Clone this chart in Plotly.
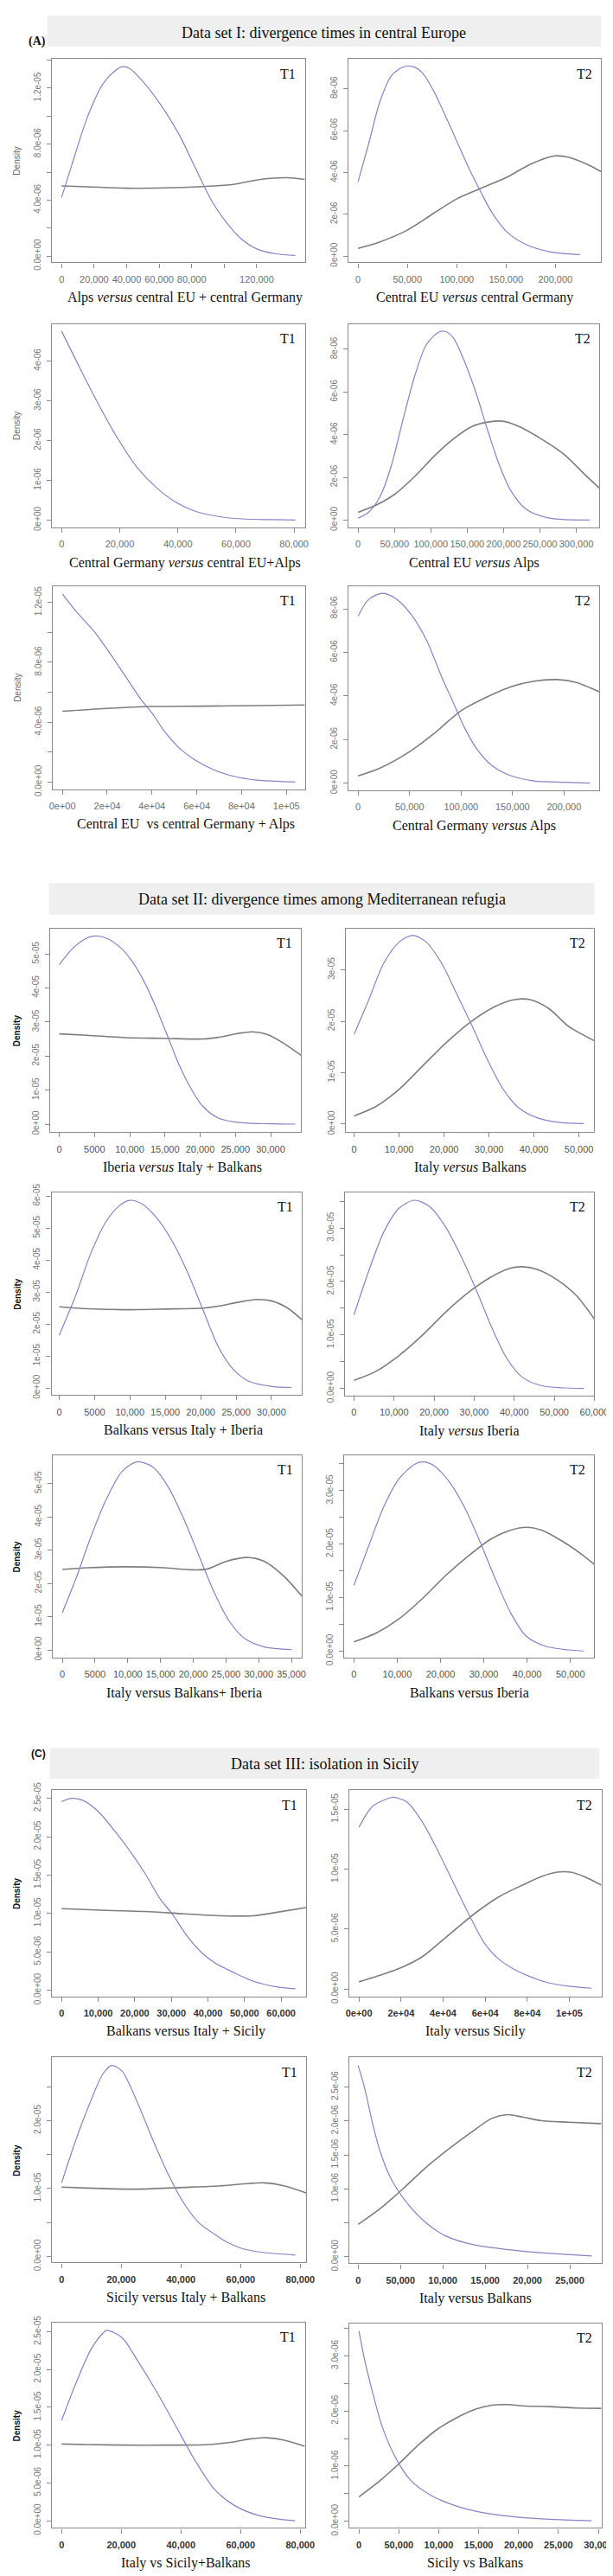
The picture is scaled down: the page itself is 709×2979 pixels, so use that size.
import plotly.graph_objects as go

W, H = 709, 2979

# ---------------- DATA ----------------
# Section A
A1_XB = [0, 6390, 15860, 25300, 32400, 37150, 41900, 51400, 63200, 72700, 82100, 91600, 101000, 110500, 120000, 131800, 143700]
A1_YB = [4.19e-6, 6.55e-6, 9.92e-6, 1.228e-5, 1.32e-5, 1.354e-5, 1.34e-5, 1.228e-5, 1.043e-5, 8.59e-6, 6.34e-6, 4.09e-6, 2.46e-6, 1.23e-6, 5.1e-7, 1.6e-7, 4e-8]
A1_XG = [0, 15860, 39600, 63200, 86900, 105800, 122400, 139000, 149600]
A1_YG = [5.01e-6, 4.95e-6, 4.85e-6, 4.87e-6, 4.97e-6, 5.12e-6, 5.48e-6, 5.6e-6, 5.48e-6]

A2_XB = [0, 10520, 22200, 33900, 45600, 55300, 65100, 76800, 88500, 100200, 111800, 123500, 135200, 150800, 170300, 193700, 224900]
A2_YB = [3.56e-6, 5.34e-6, 7.4e-6, 8.63e-6, 9.04e-6, 9.07e-6, 8.77e-6, 7.88e-6, 6.71e-6, 5.48e-6, 4.25e-6, 3.15e-6, 2.12e-6, 1.16e-6, 5.5e-7, 2.1e-7, 7e-8]
A2_XG = [0, 22200, 49500, 76800, 100200, 123500, 150800, 174200, 199500, 213100, 232600, 246300]
A2_YG = [3.7e-7, 6.8e-7, 1.23e-6, 2.05e-6, 2.74e-6, 3.22e-6, 3.77e-6, 4.38e-6, 4.79e-6, 4.73e-6, 4.38e-6, 4.04e-6]

A3_XB = [0, 6225, 12850, 19470, 26090, 32700, 39300, 45960, 53900, 61850, 72450, 80400]
A3_YB = [4.75e-6, 3.83e-6, 2.89e-6, 2.03e-6, 1.31e-6, 8.1e-7, 4.5e-7, 2.2e-7, 9e-8, 3e-8, 1e-8, 0]

A4_XB = [0, 14300, 30200, 46000, 61900, 77800, 93700, 109500, 119000, 130700, 146600, 162400, 178300, 194200, 210100, 231200, 263000, 318500]
A4_YB = [9e-8, 3.6e-7, 1.1e-6, 2.58e-6, 4.72e-6, 6.74e-6, 8.21e-6, 8.78e-6, 8.85e-6, 8.55e-6, 7.41e-6, 5.93e-6, 4.19e-6, 2.58e-6, 1.37e-6, 5e-7, 9e-8, 0]
A4_XG = [0, 24900, 51300, 77800, 104200, 130700, 157100, 178300, 199500, 220600, 252400, 284100, 310600, 331700]
A4_YG = [3.6e-7, 7e-7, 1.23e-6, 2.04e-6, 2.98e-6, 3.79e-6, 4.39e-6, 4.59e-6, 4.63e-6, 4.39e-6, 3.79e-6, 3.05e-6, 2.17e-6, 1.5e-6]

A5_XB = [0, 6010, 14600, 21480, 28350, 35220, 40380, 45530, 52400, 59280, 67870, 76460, 86770, 97080, 103950]
A5_YB = [1.257e-5, 1.143e-5, 9.99e-6, 8.55e-6, 7.02e-6, 5.49e-6, 4.54e-6, 3.39e-6, 2.24e-6, 1.47e-6, 8e-7, 3.8e-7, 1.3e-7, 4e-8, 0]
A5_XG = [0, 19760, 40380, 62710, 86770, 108250]
A5_YG = [4.73e-6, 4.92e-6, 5.05e-6, 5.07e-6, 5.11e-6, 5.15e-6]

A6_XB = [0, 10090, 23170, 36250, 51200, 66150, 81100, 92300, 103500, 114700, 129600, 148300, 170800, 200600, 225000]
A6_YB = [7.66e-6, 8.42e-6, 8.71e-6, 8.48e-6, 7.76e-6, 6.59e-6, 4.88e-6, 3.71e-6, 2.53e-6, 1.61e-6, 8.2e-7, 3.4e-7, 1e-7, 4e-8, 0]
A6_XG = [0, 21300, 51200, 73600, 99800, 126000, 148300, 170800, 193200, 211900, 234300]
A6_YG = [3.3e-7, 6.9e-7, 1.48e-6, 2.27e-6, 3.31e-6, 3.97e-6, 4.42e-6, 4.68e-6, 4.75e-6, 4.62e-6, 4.19e-6]

# Section B
B1_XB = [0, 1803, 3443, 4809, 6721, 8907, 10546, 12186, 13825, 15464, 17100, 18740, 20380, 22570, 25850, 30220, 33500]
B1_YB = [4.68e-5, 5.14e-5, 5.41e-5, 5.52e-5, 5.46e-5, 5.14e-5, 4.72e-5, 4.13e-5, 3.38e-5, 2.54e-5, 1.70e-5, 1.03e-5, 5.2e-6, 1.8e-6, 4e-7, 1e-7, 0]
B1_XG = [0, 3989, 9454, 14918, 20380, 22570, 25300, 27490, 29670, 31860, 34320]
B1_YG = [2.65e-5, 2.61e-5, 2.54e-5, 2.52e-5, 2.50e-5, 2.55e-5, 2.66e-5, 2.71e-5, 2.62e-5, 2.37e-5, 2.02e-5]

B2_XB = [0, 3168, 6590, 10020, 13010, 16010, 19430, 22860, 26280, 29710, 33130, 36560, 40840, 45980, 51110]
B2_YB = [1.747e-5, 2.40e-5, 3.13e-5, 3.54e-5, 3.67e-5, 3.54e-5, 3.13e-5, 2.52e-5, 1.90e-5, 1.24e-5, 6.8e-6, 3.2e-6, 1.2e-6, 3e-7, 1e-7]
B2_XG = [0, 4880, 10020, 15150, 20290, 26280, 31420, 35700, 39130, 43410, 47690, 53420]
B2_YG = [1.61e-6, 3.45e-6, 6.79e-6, 1.124e-5, 1.569e-5, 2.01e-5, 2.29e-5, 2.42e-5, 2.42e-5, 2.24e-5, 1.90e-5, 1.62e-5]

B3_XB = [0, 2342, 4520, 6700, 8606, 9967, 11600, 13780, 15960, 18140, 20320, 22500, 24670, 26850, 30120, 32840]
B3_YB = [1.647e-5, 2.90e-5, 4.24e-5, 5.23e-5, 5.72e-5, 5.87e-5, 5.77e-5, 5.32e-5, 4.60e-5, 3.62e-5, 2.45e-5, 1.29e-5, 5.7e-6, 2.1e-6, 5e-7, 2e-7]
B3_XG = [0, 3980, 9420, 14870, 20320, 22500, 25220, 27940, 30120, 32300, 34300]
B3_YG = [2.54e-5, 2.48e-5, 2.45e-5, 2.47e-5, 2.50e-5, 2.56e-5, 2.68e-5, 2.77e-5, 2.72e-5, 2.50e-5, 2.14e-5]

B4_XB = [0, 3558, 7404, 11250, 15100, 18940, 22790, 26630, 30480, 34330, 38170, 42020, 46830, 52600, 57400]
B4_YB = [1.377e-5, 2.17e-5, 2.92e-5, 3.37e-5, 3.52e-5, 3.40e-5, 3.03e-5, 2.49e-5, 1.85e-5, 1.15e-5, 5.6e-6, 2.1e-6, 5e-7, 1e-7, 0]
B4_XG = [0, 5480, 11250, 17020, 22790, 28560, 34330, 39130, 42020, 45870, 50670, 55480, 60000]
B4_YG = [1.5e-6, 3.2e-6, 6.16e-6, 9.91e-6, 1.419e-5, 1.794e-5, 2.089e-5, 2.25e-5, 2.276e-5, 2.223e-5, 2.035e-5, 1.74e-5, 1.30e-5]

B5_XB = [0, 2059, 4412, 6765, 9118, 11470, 13820, 16180, 18530, 20880, 23240, 25590, 27940, 30880, 35000]
B5_YB = [1.12e-5, 2.14e-5, 3.43e-5, 4.55e-5, 5.37e-5, 5.66e-5, 5.50e-5, 4.90e-5, 3.95e-5, 2.83e-5, 1.71e-5, 8.4e-6, 3.3e-6, 9e-7, 1e-7]
B5_XG = [0, 3824, 9706, 15590, 19710, 22060, 25000, 28240, 30880, 33820, 36590]
B5_YG = [2.42e-5, 2.47e-5, 2.50e-5, 2.47e-5, 2.41e-5, 2.43e-5, 2.66e-5, 2.78e-5, 2.66e-5, 2.22e-5, 1.62e-5]

B6_XB = [0, 3292, 6850, 10410, 13970, 15750, 18420, 21980, 25530, 29090, 32650, 36210, 39770, 44220, 49560, 53110]
B6_YB = [1.227e-5, 1.94e-5, 2.69e-5, 3.22e-5, 3.49e-5, 3.535e-5, 3.47e-5, 3.17e-5, 2.69e-5, 2.05e-5, 1.35e-5, 7.1e-6, 2.8e-6, 9e-7, 2e-7, 0]
B6_XG = [0, 5071, 10410, 15750, 21090, 26420, 31760, 36210, 39770, 43330, 47780, 52220, 55520]
B6_YG = [1.71e-6, 3.32e-6, 6.0e-6, 9.75e-6, 1.403e-5, 1.778e-5, 2.10e-5, 2.26e-5, 2.314e-5, 2.26e-5, 2.07e-5, 1.83e-5, 1.62e-5]

# Section C
C1_XB = [0, 2842, 6000, 10210, 14420, 18630, 22840, 27050, 30210, 34420, 38630, 41790, 47050, 52320, 58630, 63890]
C1_YB = [2.459e-5, 2.50e-5, 2.47e-5, 2.32e-5, 2.08e-5, 1.817e-5, 1.519e-5, 1.183e-5, 9.96e-6, 6.98e-6, 4.74e-6, 3.6e-6, 2.31e-6, 1.19e-6, 4.5e-7, 1.9e-7]
C1_XG = [0, 12320, 22840, 33370, 43890, 52320, 59680, 66840]
C1_YG = [1.063e-5, 1.041e-5, 1.026e-5, 9.96e-6, 9.70e-6, 9.70e-6, 1.022e-5, 1.078e-5]

C2_XB = [0, 6400, 13710, 16450, 22850, 30160, 37480, 44790, 52100, 59410, 66720, 74040, 81350, 90490, 99630, 110600]
C2_YB = [1.35e-5, 1.524e-5, 1.589e-5, 1.60e-5, 1.56e-5, 1.393e-5, 1.154e-5, 8.91e-6, 6.28e-6, 3.89e-6, 2.46e-6, 1.62e-6, 1.03e-6, 5e-7, 2.4e-7, 7e-8]
C2_XG = [0, 10050, 21030, 30160, 39300, 46610, 55750, 66720, 77690, 86830, 94140, 100550, 106900, 115200]
C2_YG = [6.0e-7, 1.15e-6, 1.86e-6, 2.7e-6, 4.01e-6, 5.09e-6, 6.40e-6, 7.72e-6, 8.67e-6, 9.39e-6, 9.75e-6, 9.75e-6, 9.39e-6, 8.67e-6]

C3_XB = [0, 4774, 9935, 13810, 16770, 20260, 25420, 30580, 35740, 40900, 46060, 52520, 55100, 60260, 66710, 78320]
C3_YB = [1.084e-5, 1.717e-5, 2.308e-5, 2.688e-5, 2.814e-5, 2.73e-5, 2.266e-5, 1.717e-5, 1.211e-5, 7.89e-6, 4.94e-6, 2.9e-6, 2.2e-6, 1.2e-6, 6.3e-7, 2.1e-7]
C3_XG = [0, 8645, 25420, 40900, 53810, 62840, 68000, 74450, 81940]
C3_YG = [1.021e-5, 1.008e-5, 9.92e-6, 1.017e-5, 1.042e-5, 1.076e-5, 1.084e-5, 1.042e-5, 9.37e-6]

C4_XB = [0, 773, 1682, 2591, 3955, 5773, 8045, 10320, 13500, 18050, 22590, 27590]
C4_YB = [2.818e-6, 2.481e-6, 1.975e-6, 1.553e-6, 1.131e-6, 7.93e-7, 4.98e-7, 3.08e-7, 1.8e-7, 1.0e-7, 5e-8, 1.3e-8]
C4_XG = [0, 2591, 5318, 8045, 10770, 13500, 15770, 17590, 19410, 21680, 24860, 28730]
C4_YG = [4.77e-7, 7.09e-7, 1.004e-6, 1.321e-6, 1.595e-6, 1.848e-6, 2.038e-6, 2.093e-6, 2.059e-6, 2.004e-6, 1.983e-6, 1.962e-6]

C5_XB = [0, 4774, 9935, 13810, 15100, 20260, 25420, 31870, 38320, 44770, 51230, 57680, 65420, 73160, 78320]
C5_YB = [1.326e-5, 1.818e-5, 2.273e-5, 2.48e-5, 2.519e-5, 2.424e-5, 2.121e-5, 1.705e-5, 1.25e-5, 7.95e-6, 4.17e-6, 2.08e-6, 7.6e-7, 1.9e-7, 0]
C5_XG = [0, 8645, 21550, 34450, 47350, 57680, 62840, 68650, 74450, 81550]
C5_YG = [1.015e-5, 1.008e-5, 1.0e-5, 1.0e-5, 1.004e-5, 1.042e-5, 1.08e-5, 1.098e-5, 1.068e-5, 9.85e-6]

C6_XB = [0, 723, 1688, 2893, 4581, 6510, 8920, 11810, 15190, 19050, 23870, 29170]
C6_YB = [3.453e-6, 2.922e-6, 2.35e-6, 1.726e-6, 1.154e-6, 7.38e-7, 4.78e-7, 2.96e-7, 1.66e-7, 8.8e-8, 3.6e-8, 1e-8]
C6_XG = [0, 2652, 5063, 7474, 9885, 12300, 14710, 16640, 18570, 20980, 23870, 27240, 30380]
C6_YG = [4.42e-7, 7.38e-7, 1.05e-6, 1.388e-6, 1.674e-6, 1.882e-6, 2.038e-6, 2.106e-6, 2.116e-6, 2.09e-6, 2.08e-6, 2.054e-6, 2.049e-6]

# Tick labels
XT_A1 = ["0", "20,000", "40,000", "60,000", "80,000", "", "120,000"]
XT_A2 = ["0", "50,000", "100,000", "150,000", "200,000"]
XT_A3 = ["0", "20,000", "40,000", "60,000", "80,000"]
XT_A4 = ["0", "50,000", "100,000", "150,000", "200,000", "250,000", "300,000"]
XT_A5 = ["0e+00", "2e+04", "4e+04", "6e+04", "8e+04", "1e+05"]
XT_A6 = ["0", "50,000", "100,000", "150,000", "200,000"]
XT_B1 = ["0", "5000", "10,000", "15,000", "20,000", "25,000", "30,000"]
XT_B2 = ["0", "10,000", "20,000", "30,000", "40,000", "50,000"]
XT_B3 = ["0", "5000", "10,000", "15,000", "20,000", "25,000", "30,000"]
XT_B4 = ["0", "10,000", "20,000", "30,000", "40,000", "50,000", "60,000"]
XT_B5 = ["0", "5000", "10,000", "15,000", "20,000", "25,000", "30,000", "35,000"]
XT_B6 = ["0", "10,000", "20,000", "30,000", "40,000", "50,000"]
XT_C1 = ["0", "10,000", "20,000", "30,000", "40,000", "50,000", "60,000"]
XT_C2 = ["0e+00", "2e+04", "4e+04", "6e+04", "8e+04", "1e+05"]
XT_C3 = ["0", "20,000", "40,000", "60,000", "80,000"]
XT_C4 = ["0", "50,000", "10,000", "15,000", "20,000", "25,000"]
XT_C5 = ["0", "20,000", "40,000", "60,000", "80,000"]
XT_C6 = ["0", "50,000", "10,000", "15,000", "20,000", "25,000", "30,000"]

YT_A1 = ["0.0e+00", "", "4.0e-06", "", "8.0e-06", "", "1.2e-05", ""]
YT_A2 = ["0e+00", "2e-06", "4e-06", "6e-06", "8e-06"]
YT_A3 = ["0e+00", "1e-06", "2e-06", "3e-06", "4e-06"]
YT_A4 = ["0e+00", "2e-06", "4e-06", "6e-06", "8e-06"]
YT_A5 = ["0.0e+00", "", "4.0e-06", "", "8.0e-06", "", "1.2e-05"]
YT_A6 = ["0e+00", "2e-06", "4e-06", "6e-06", "8e-06"]
YT_B1 = ["0e+00", "1e-05", "2e-05", "3e-05", "4e-05", "5e-05"]
YT_B2 = ["0e+00", "1e-05", "2e-05", "3e-05"]
YT_B3 = ["0e+00", "1e-05", "2e-05", "3e-05", "4e-05", "5e-05", "6e-05"]
YT_B4 = ["0.0e+00", "", "1.0e-05", "", "2.0e-05", "", "3.0e-05", ""]
YT_B5 = ["0e+00", "1e-05", "2e-05", "3e-05", "4e-05", "5e-05"]
YT_B6 = ["0.0e+00", "", "1.0e-05", "", "2.0e-05", "", "3.0e-05", ""]
YT_C1 = ["0.0e+00", "5.0e-06", "1.0e-05", "1.5e-05", "2.0e-05", "2.5e-05"]
YT_C2 = ["0.0e+00", "5.0e-06", "1.0e-05", "1.5e-05"]
YT_C3 = ["0.0e+00", "", "1.0e-05", "", "2.0e-05", ""]
YT_C4 = ["0.0e+00", "", "1.0e-06", "1.5e-06", "2.0e-06", "2.5e-06"]
YT_C5 = ["0.0e+00", "5.0e-06", "1.0e-05", "1.5e-05", "2.0e-05", "2.5e-05"]
YT_C6 = ["0.0e+00", "", "1.0e-06", "", "2.0e-06", "", "3.0e-06", ""]

X_TITLES = [
    "Alps <i>versus</i> central EU + central Germany", "Central EU <i>versus</i> central Germany",
    "Central Germany <i>versus</i> central EU+Alps", "Central EU <i>versus</i> Alps",
    "Central EU  vs central Germany + Alps", "Central Germany <i>versus</i> Alps",
    "Iberia <i>versus</i> Italy + Balkans", "Italy <i>versus</i> Balkans",
    "Balkans versus Italy + Iberia", "Italy <i>versus</i> Iberia",
    "Italy versus Balkans+ Iberia", "Balkans versus Iberia",
    "Balkans versus Italy + Sicily", "Italy versus Sicily",
    "Sicily versus Italy + Balkans", "Italy versus Balkans",
    "Italy vs Sicily+Balkans", "Sicily vs Balkans",
]
SECTION_TITLES = ["Data set I: divergence times in central Europe",
                  "Data set II: divergence times among Mediterranean refugia",
                  "Data set III: isolation in Sicily"]

# ---------------- LAYOUT (pixel geometry) ----------------
BLUE = "#8484C6"
GRAY = "#7E7E7E"
BOX = "#8A8A8A"

def step_vals(stop, step):
    n = int(round(stop / step))
    return [i * step for i in range(n + 1)]

panels = [
    ("A1", A1_XB, A1_YB, A1_XG, A1_YG, (49.6, 351, 50.7, 287.3), (-5900, 149600), (-4.5e-7, 1.4077e-5), 20000, XT_A1, 2e-6, YT_A1, "A"),
    ("A2", A2_XB, A2_YB, A2_XG, A2_YG, (403, 704, 50.7, 287.3), (-9740, 246300), (-3.0e-7, 9.42e-6), 50000, XT_A2, 2e-6, YT_A2, "A"),
    ("A3", A3_XB, A3_YB, None, None, (49.6, 351, 359, 596), (-3311, 83700), (-1.87e-7, 4.93e-6), 20000, XT_A3, 1e-6, YT_A3, "A"),
    ("A4", A4_XB, A4_YB, A4_XG, A4_YG, (403, 702, 359, 596), (-13200, 331700), (-3.5e-7, 9.19e-6), 50000, XT_A4, 2e-6, YT_A4, "A"),
    ("A5", A5_XB, A5_YB, A5_XG, A5_YG, (50.5, 351, 664, 900.7), (-4300, 108250), (-4.8e-7, 1.311e-5), 20000, XT_A5, 2e-6, YT_A5, "A"),
    ("A6", A6_XB, A6_YB, A6_XG, A6_YG, (403, 702, 664, 902), (-9340, 234300), (-3.3e-7, 9.05e-6), 50000, XT_A6, 2e-6, YT_A6, "A"),
    ("B1", B1_XB, B1_YB, B1_XG, B1_YG, (47.7, 346.5, 1062.7, 1300), (-1257, 34320), (-2.35e-6, 5.75e-5), 5000, XT_B1, 1e-5, YT_B1, "B"),
    ("B2", B2_XB, B2_YB, B2_XG, B2_YG, (399.7, 696, 1062.7, 1300), (-1884, 53420), (-1.56e-6, 3.806e-5), 10000, XT_B2, 1e-5, YT_B2, "B"),
    ("B3", B3_XB, B3_YB, B3_XG, B3_YG, (49, 347.4, 1370, 1606), (-1090, 34300), (-2.15e-6, 6.12e-5), 5000, XT_B3, 1e-5, YT_B3, "B"),
    ("B4", B4_XB, B4_YB, B4_XG, B4_YG, (399, 696, 1370, 1606.7), (-2211, 60000), (-1.34e-6, 3.669e-5), 10000, XT_B4, 5e-6, YT_B4, "B"),
    ("B5", B5_XB, B5_YB, B5_XG, B5_YG, (50.5, 347.4, 1676, 1911.7), (-1470, 36590), (-2.3e-6, 5.86e-5), 5000, XT_B5, 1e-5, YT_B5, "B"),
    ("B6", B6_XB, B6_YB, B6_XG, B6_YG, (398, 696, 1676, 1911.7), (-2224, 55520), (-1.23e-6, 3.664e-5), 10000, XT_B6, 5e-6, YT_B6, "B"),
    ("C1", C1_XB, C1_YB, C1_XG, C1_YG, (49.6, 352.5, 2066, 2306), (-2632, 66840), (-7.8e-7, 2.608e-5), 10000, XT_C1, 5e-6, YT_C1, "C"),
    ("C2", C2_XB, C2_YB, C2_XG, C2_YG, (404, 704.4, 2066, 2306), (-4570, 115200), (-6e-7, 1.66e-5), 20000, XT_C2, 5e-6, YT_C2, "C"),
    ("C3", C3_XB, C3_YB, C3_XG, C3_YG, (49.6, 352.5, 2377.3, 2616), (-3226, 81940), (-8.9e-7, 2.932e-5), 20000, XT_C3, 5e-6, YT_C3, "C"),
    ("C4", C4_XB, C4_YB, C4_XG, C4_YG, (404, 704.4, 2377.3, 2617), (-1045, 28730), (-9.7e-8, 2.937e-6), 5000, XT_C4, 5e-7, YT_C4, "C"),
    ("C5", C5_XB, C5_YB, C5_XG, C5_YG, (49.6, 351, 2686, 2925), (-3226, 81550), (-9.5e-7, 2.621e-5), 20000, XT_C5, 5e-6, YT_C5, "C"),
    ("C6", C6_XB, C6_YB, C6_XG, C6_YG, (404, 704.4, 2687, 2925), (-1205, 30380), (-1.2e-7, 3.588e-6), 5000, XT_C6, 5e-7, YT_C6, "C"),
]

fig = go.Figure()
layout = dict(width=W, height=H, margin=dict(l=0, r=0, t=0, b=0),
              paper_bgcolor="white", plot_bgcolor="white", showlegend=False)
annotations = []
shapes = []

def px_x(x):
    return x / W

def px_y(y):
    return 1 - y / H

for i, (name, xb, yb, xg, yg, box, xr, yr, xs, xt, ys, yt, sec) in enumerate(panels):
    k = "" if i == 0 else str(i + 1)
    x0, x1, y0, y1 = box
    xvals = step_vals(xs * (len(xt) - 1), xs)
    yvals = step_vals(ys * (len(yt) - 1), ys)
    if sec == "C":
        xfont = dict(family="Liberation Sans, Arial", size=11, color="#333333", weight="bold")
    elif sec == "B":
        xfont = dict(family="Liberation Sans, Arial", size=11, color="#555555")
    else:
        xfont = dict(family="Liberation Sans, Arial", size=11, color="#6f6f6f")
    yfont = dict(family="Liberation Sans, Arial", size=10, color="#777777")
    layout["xaxis" + k] = dict(domain=[px_x(x0), px_x(x1)], range=list(xr), anchor="y" + k,
                               tickmode="array", tickvals=xvals, ticktext=xt,
                               ticks="outside", ticklen=5, tickcolor=BOX, tickwidth=1,
                               showline=True, mirror=True, linecolor=BOX, linewidth=1.3,
                               showgrid=False, zeroline=False, tickfont=xfont, tickangle=0,
                               ticklabelstandoff=4)
    layout["yaxis" + k] = dict(domain=[px_y(y1), px_y(y0)], range=list(yr), anchor="x" + k,
                               tickmode="array", tickvals=yvals, ticktext=yt,
                               ticks="outside", ticklen=5, tickcolor=BOX, tickwidth=1,
                               showline=True, mirror=True, linecolor=BOX, linewidth=1.3,
                               showgrid=False, zeroline=False, tickfont=yfont, tickangle=-90,
                               ticklabelstandoff=3)
    if xg is not None:
        fig.add_trace(go.Scatter(x=xg, y=yg, mode="lines", xaxis="x" + k, yaxis="y" + k,
                                 line=dict(color=GRAY, width=1.6, shape="spline", smoothing=0.8),
                                 hoverinfo="skip"))
    fig.add_trace(go.Scatter(x=xb, y=yb, mode="lines", xaxis="x" + k, yaxis="y" + k,
                             line=dict(color=BLUE, width=1.2, shape="spline", smoothing=0.8),
                             hoverinfo="skip"))
    tlabel = "T1" if i % 2 == 0 else "T2"
    annotations.append(dict(x=px_x(x1 - 20), y=px_y(y0 + 17), xref="paper", yref="paper",
                            text=tlabel, showarrow=False, xanchor="center", yanchor="middle",
                            font=dict(family="Liberation Serif, Times New Roman", size=16, color="#111111")))
    annotations.append(dict(x=px_x((x0 + x1) / 2 + (8 if i % 2 == 0 else 0)), y=px_y(y1 + 41),
                            xref="paper", yref="paper", text=X_TITLES[i], showarrow=False,
                            xanchor="center", yanchor="middle",
                            font=dict(family="Liberation Serif, Times New Roman", size=16, color="#111111")))
    if i % 2 == 0:
        if sec == "A":
            dfont = dict(family="Liberation Sans, Arial", size=10, color="#6a6a6a")
        else:
            dfont = dict(family="Liberation Sans, Arial", size=10, color="#111111", weight="bold")
        annotations.append(dict(x=px_x(8), y=px_y((y0 + y1) / 2), xref="paper", yref="paper",
                                text="Density", showarrow=False, textangle=-90,
                                xanchor="center", yanchor="middle", font=dfont))

banners = [(44, 704, 0, 36, 20), (46, 696, 1010, 1046.7, 1029), (47, 702, 2017, 2052.7, 2036)]
for (bx0, bx1, by0, by1, ty), title in zip(banners, SECTION_TITLES):
    shapes.append(dict(type="rect", xref="paper", yref="paper", x0=px_x(bx0), x1=px_x(bx1),
                       y0=px_y(by1), y1=px_y(by0), fillcolor="#EFEFEF", line=dict(width=0), layer="below"))
    annotations.append(dict(x=px_x((bx0 + bx1) / 2), y=px_y(ty), xref="paper", yref="paper",
                            text=title, showarrow=False, xanchor="center", yanchor="middle",
                            font=dict(family="Liberation Serif, Times New Roman", size=18, color="#111111")))

annotations.append(dict(x=px_x(20), y=px_y(20), xref="paper", yref="paper", text="<b>(A)</b>",
                        showarrow=False, font=dict(family="Liberation Serif, Times New Roman", size=14, color="#111111")))
annotations.append(dict(x=px_x(23), y=px_y(2033), xref="paper", yref="paper", text="<b>(C)</b>",
                        showarrow=False, font=dict(family="Liberation Sans, Arial", size=12, color="#111111")))

layout["annotations"] = annotations
layout["shapes"] = shapes
fig.update_layout(**layout)
fig.write_html("out.html")
